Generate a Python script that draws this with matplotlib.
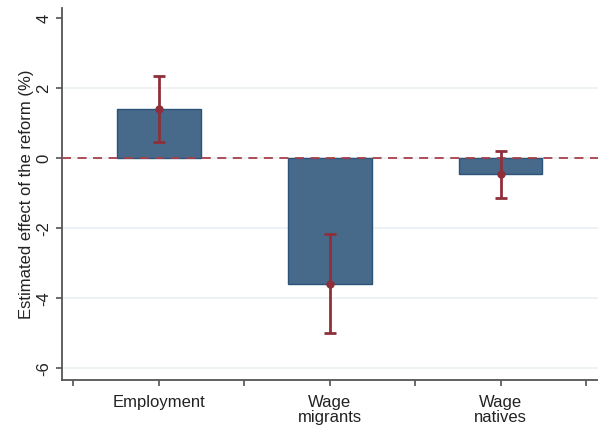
import matplotlib
matplotlib.use("Agg")
import matplotlib.pyplot as plt
import numpy as np

# Estimated effects of the reform with 95% confidence intervals
categories = ["Employment", "Wage\nmigrants", "Wage\nnatives"]
estimates = [1.40, -3.59, -0.44]
ci_low = [0.46, -5.00, -1.14]
ci_high = [2.35, -2.16, 0.22]
y_ticks = [-6, -4, -2, 0, 2, 4]

plt.rcParams["font.family"] = ["Liberation Sans", "DejaVu Sans"]

fig = plt.figure(figsize=(5.98, 4.25), dpi=100)
ax = fig.add_axes([62 / 598, (425 - 380) / 425, 1 - 62 / 598, (380 - 8) / 425])

x = np.arange(1, len(categories) + 1)
est = np.array(estimates)
lo = np.array(ci_low)
hi = np.array(ci_high)

# light horizontal grid
for yv in [-6, -4, -2, 0, 2]:
    ax.axhline(yv, color="#eaf1f3", lw=1.2, zorder=0)

ax.bar(x, est, width=0.49, color="#476a8a", edgecolor="#2c5478",
       linewidth=1.0, zorder=2)

ax.axhline(0, color="#a8404a", lw=1.3, dashes=(5.0, 3.6), zorder=3)

ax.errorbar(x, est, yerr=[est - lo, hi - est], fmt="o", color="#8e2f3a",
            ecolor="#8e2f3a", elinewidth=2.0, capsize=4, capthick=2.0,
            markersize=5, zorder=4)

ax.set_xlim(0.433, 3.57)
ax.set_ylim(-6.33, 4.29)

ax.set_yticks(y_ticks)
ax.set_yticklabels([str(v) for v in y_ticks], rotation=90, va="center",
                   fontsize=12, color="#222222")
ax.set_xticks(x)
ax.set_xticklabels(categories, fontsize=12, color="#222222", linespacing=0.95)
ax.set_xticks([0.5, 1.5, 2.5, 3.5], minor=True)

ax.tick_params(axis="y", direction="out", length=4.5, width=1.1,
               color="#444444", pad=3)
ax.tick_params(axis="x", which="both", direction="out", length=4, width=1.1,
               color="#444444", pad=7)

ax.set_ylabel("Estimated effect of the reform (%)", fontsize=12,
              color="#222222", labelpad=2)

for side in ["top", "right"]:
    ax.spines[side].set_visible(False)
for side in ["left", "bottom"]:
    ax.spines[side].set_color("#555555")
    ax.spines[side].set_linewidth(1.3)

fig.savefig("out.png", dpi=100)
